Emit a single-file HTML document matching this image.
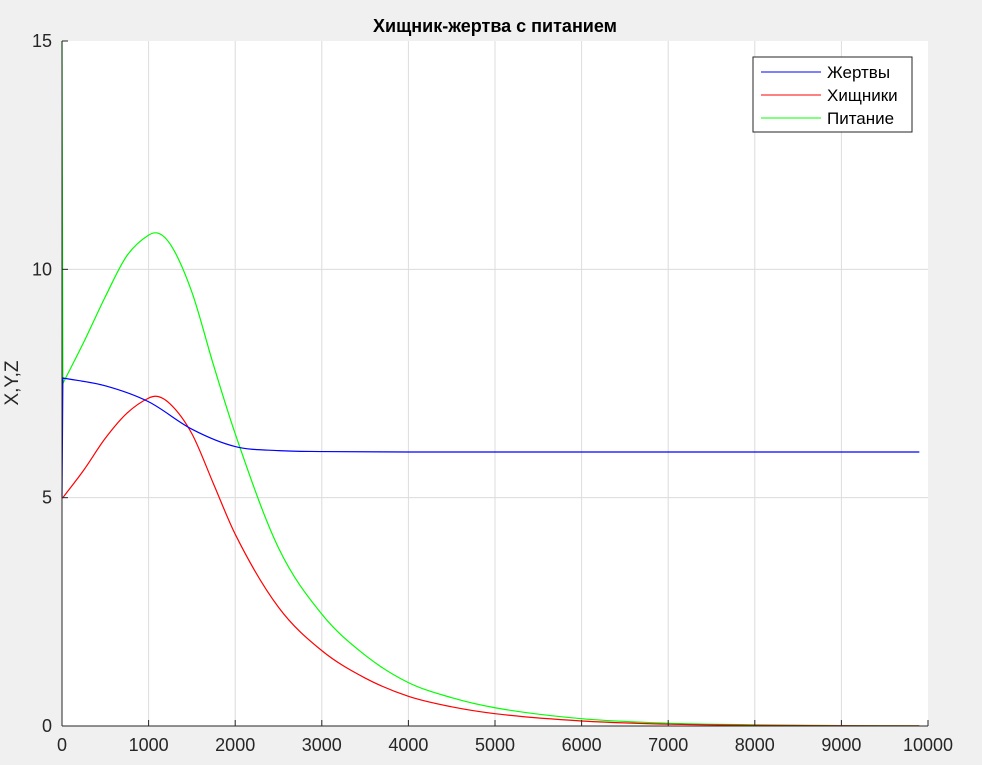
<!DOCTYPE html>
<html><head><meta charset="utf-8"><style>
body{margin:0;background:#f0f0f0;}
svg text{font-family:"Liberation Sans",sans-serif;}
</style></head><body>
<svg id="chart" width="982" height="760">
<rect x="0" y="0" width="982" height="760" fill="#f0f0f0"/>
<rect x="62" y="41" width="866" height="685" fill="#fff"/>
<g id="grid"></g>
<g id="series"></g>
<g id="axes"></g>
<text x="495" y="32" text-anchor="middle" font-size="18" font-weight="bold" fill="#000">Хищник-жертва с питанием</text>
<text transform="translate(18,383) rotate(-90)" text-anchor="middle" font-size="19" fill="#262626">X,Y,Z</text>
<g>
<rect x="753" y="57" width="159" height="75" fill="#fff" stroke="#262626" stroke-width="1"/>
<line x1="761" y1="72" x2="821" y2="72" stroke="#0000ff"/>
<text x="827" y="78" font-size="17" fill="#000">Жертвы</text>
<line x1="761" y1="95" x2="821" y2="95" stroke="#ff0000"/>
<text x="827" y="101" font-size="17" fill="#000">Хищники</text>
<line x1="761" y1="118" x2="821" y2="118" stroke="#00ff00"/>
<text x="827" y="124" font-size="17" fill="#000">Питание</text>
</g>
</svg>
<script>
const tPrey=[0,10,500,1000,1500,2000,2500,3000,4000,6000,8000,9900];
const prey=[5,7.62,7.45,7.1,6.5,6.12,6.03,6.01,6.0,6.0,6.0,6.0];
const tPred=[0,10,250,500,750,1000,1080,1250,1500,1750,2000,2500,3000,3500,4000,4500,5000,6000,7000,8000,9000,9900];
const pred=[5,5.0,5.6,6.3,6.85,7.18,7.22,7.05,6.4,5.3,4.2,2.6,1.65,1.05,0.65,0.42,0.27,0.11,0.04,0.015,0.005,0.002];
const tFood=[0,10,250,500,750,1000,1080,1250,1500,1750,2000,2500,3000,3500,4000,4500,5000,6000,7000,8000,9000,9900];
const food=[15,7.5,8.4,9.4,10.3,10.75,10.8,10.55,9.5,7.9,6.4,3.9,2.45,1.55,0.95,0.62,0.4,0.16,0.06,0.025,0.01,0.004];
const xTicks=[0,1000,2000,3000,4000,5000,6000,7000,8000,9000,10000];
const yTicks=[0,5,10,15];
const X=v=>62+v/10000*866, Y=v=>726-v/15*685;
const NS='http://www.w3.org/2000/svg';
function mk(tag,attrs,parent){const e=document.createElementNS(NS,tag);for(const k in attrs)e.setAttribute(k,attrs[k]);document.getElementById(parent).appendChild(e);return e;}
xTicks.forEach((t,i)=>{
 if(i>0&&i<xTicks.length-1){const g=mk('line',{x1:X(t),x2:X(t),y1:41,y2:726,stroke:'#dcdcdc'},'grid');
 
 }
 const tk=mk('line',{x1:X(t),x2:X(t),y1:726,y2:720,stroke:'#262626'},'axes');
 
 
 const tx=mk('text',{x:X(t),y:751,'text-anchor':'middle','font-size':18,fill:'#262626'},'axes');
 tx.textContent=t;
 
 
});
yTicks.forEach((v,i)=>{
 if(i>0&&i<yTicks.length-1){const g=mk('line',{x1:62,x2:928,y1:Y(v),y2:Y(v),stroke:'#dcdcdc'},'grid');
 
 }
 const tk=mk('line',{x1:62,x2:68,y1:Y(v),y2:Y(v),stroke:'#262626'},'axes');
 
 
 const tx=mk('text',{x:52,y:Y(v)+6,'text-anchor':'end','font-size':18,fill:'#262626'},'axes');
 tx.textContent=v;
 
 
});
const ax=mk('line',{x1:62,x2:62,y1:41,y2:726,stroke:'#262626'},'axes');


const bx=mk('line',{x1:62,x2:928,y1:726,y2:726,stroke:'#262626'},'axes');


// monotone cubic (Fritsch-Carlson) from index 1, straight jump from index 0
function path(ts,vs){
 const p=ts.map((t,i)=>[X(t),Y(vs[i])]);
 let d='M'+p[0][0]+','+p[0][1]+' L'+p[1][0]+','+p[1][1];
 const q=p.slice(1), n=q.length;
 const dl=[],m=[];
 for(let i=0;i<n-1;i++)dl.push((q[i+1][1]-q[i][1])/(q[i+1][0]-q[i][0]));
 for(let i=0;i<n;i++){
  if(i===0)m.push(dl[0]);else if(i===n-1)m.push(dl[n-2]);
  else m.push(dl[i-1]*dl[i]<=0?0:(dl[i-1]+dl[i])/2);
 }
 for(let i=0;i<n-1;i++){
  if(dl[i]===0){m[i]=0;m[i+1]=0;continue;}
  const a=m[i]/dl[i],b=m[i+1]/dl[i],s=a*a+b*b;
  if(s>9){const tt=3/Math.sqrt(s);m[i]=tt*a*dl[i];m[i+1]=tt*b*dl[i];}
 }
 for(let i=0;i<n-1;i++){
  const h=(q[i+1][0]-q[i][0])/3;
  d+=' C'+(q[i][0]+h)+','+(q[i][1]+m[i]*h)+' '+(q[i+1][0]-h)+','+(q[i+1][1]-m[i+1]*h)+' '+q[i+1][0]+','+q[i+1][1];
 }
 return d;
}
const s1=mk('path',{d:path(tFood,food),fill:'none',stroke:'#00ff00','stroke-width':1.2},'series');


const s2=mk('path',{d:path(tPred,pred),fill:'none',stroke:'#ff0000','stroke-width':1.2},'series');


const s3=mk('path',{d:path(tPrey,prey),fill:'none',stroke:'#0000ff','stroke-width':1.2},'series');


</script>
</body></html>
